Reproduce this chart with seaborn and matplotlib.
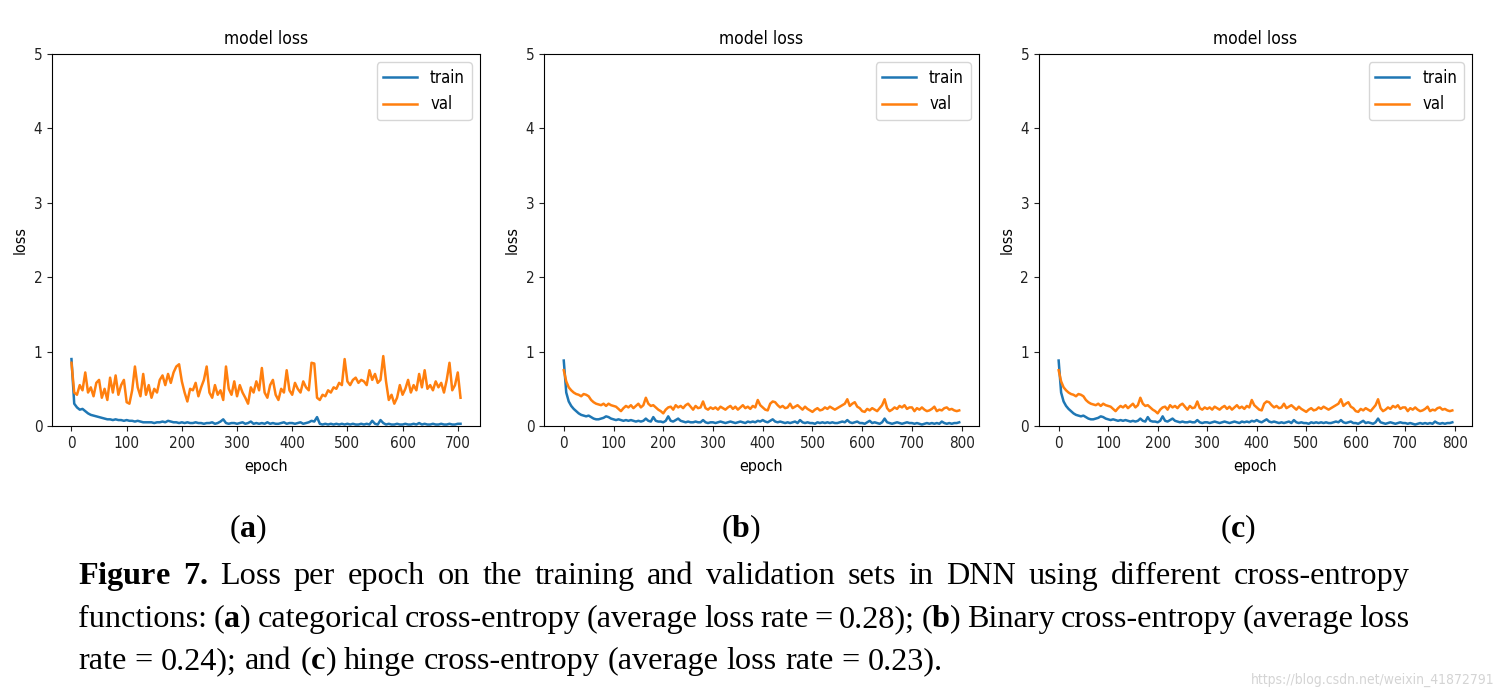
import numpy as np
import pandas as pd
import matplotlib
matplotlib.use("Agg")
import matplotlib.pyplot as plt
import seaborn as sns

epochs_a = np.arange(0, 706, 5)
epochs_b = np.arange(0, 796, 5)

a_val = [0.85, 0.45, 0.42, 0.55, 0.48, 0.72, 0.45, 0.52, 0.40, 0.58,
         0.62, 0.38, 0.50, 0.35, 0.65, 0.45, 0.68, 0.42, 0.55, 0.62,
         0.32, 0.30, 0.48, 0.80, 0.52, 0.40, 0.70, 0.42, 0.55, 0.38,
         0.50, 0.45, 0.62, 0.68, 0.55, 0.70, 0.58, 0.72, 0.80, 0.83,
         0.60, 0.45, 0.33, 0.50, 0.48, 0.58, 0.40, 0.52, 0.62, 0.80,
         0.45, 0.38, 0.55, 0.42, 0.48, 0.35, 0.80, 0.50, 0.42, 0.60,
         0.40, 0.55, 0.45, 0.38, 0.30, 0.52, 0.45, 0.60, 0.48, 0.78,
         0.45, 0.38, 0.55, 0.62, 0.42, 0.35, 0.50, 0.45, 0.75, 0.48,
         0.42, 0.58, 0.50, 0.45, 0.60, 0.52, 0.48, 0.85, 0.84, 0.38,
         0.35, 0.42, 0.40, 0.48, 0.45, 0.52, 0.50, 0.58, 0.55, 0.90,
         0.60, 0.55, 0.62, 0.65, 0.58, 0.62, 0.60, 0.55, 0.75, 0.62,
         0.70, 0.58, 0.62, 0.94, 0.60, 0.35, 0.42, 0.30, 0.38, 0.55,
         0.42, 0.50, 0.62, 0.45, 0.55, 0.48, 0.70, 0.52, 0.75, 0.50,
         0.55, 0.48, 0.60, 0.52, 0.58, 0.45, 0.62, 0.85, 0.48, 0.55,
         0.72, 0.38]

a_train = [0.90, 0.30, 0.25, 0.22, 0.23, 0.20, 0.17, 0.15, 0.14, 0.13,
           0.12, 0.11, 0.10, 0.09, 0.09, 0.08, 0.09, 0.08, 0.08, 0.07,
           0.08, 0.07, 0.07, 0.06, 0.07, 0.06, 0.05, 0.05, 0.05, 0.05,
           0.04, 0.05, 0.05, 0.06, 0.05, 0.07, 0.06, 0.05, 0.05, 0.04,
           0.05, 0.04, 0.05, 0.04, 0.04, 0.05, 0.04, 0.04, 0.03, 0.04,
           0.04, 0.05, 0.03, 0.04, 0.06, 0.09, 0.04, 0.03, 0.04, 0.04,
           0.03, 0.04, 0.05, 0.03, 0.04, 0.06, 0.03, 0.04, 0.03, 0.04,
           0.03, 0.05, 0.03, 0.04, 0.03, 0.03, 0.04, 0.05, 0.03, 0.04,
           0.04, 0.03, 0.04, 0.05, 0.03, 0.04, 0.05, 0.07, 0.06, 0.12,
           0.03, 0.02, 0.03, 0.02, 0.03, 0.02, 0.03, 0.02, 0.03, 0.02,
           0.03, 0.02, 0.03, 0.02, 0.02, 0.03, 0.02, 0.03, 0.02, 0.07,
           0.03, 0.02, 0.08, 0.04, 0.02, 0.03, 0.02, 0.02, 0.03, 0.02,
           0.02, 0.03, 0.02, 0.02, 0.03, 0.02, 0.04, 0.02, 0.03, 0.02,
           0.02, 0.03, 0.02, 0.02, 0.03, 0.02, 0.02, 0.03, 0.02, 0.02,
           0.03, 0.03]

b_val = [0.75, 0.60, 0.52, 0.48, 0.45, 0.43, 0.42, 0.40, 0.43, 0.42,
         0.40, 0.35, 0.32, 0.30, 0.29, 0.28, 0.30, 0.27, 0.30, 0.28,
         0.27, 0.26, 0.23, 0.20, 0.24, 0.27, 0.25, 0.28, 0.24, 0.27,
         0.30, 0.25, 0.28, 0.38, 0.30, 0.27, 0.28, 0.25, 0.22, 0.20,
         0.17, 0.22, 0.25, 0.26, 0.22, 0.28, 0.25, 0.27, 0.24, 0.28,
         0.30, 0.26, 0.22, 0.27, 0.24, 0.25, 0.33, 0.24, 0.22, 0.25,
         0.23, 0.25, 0.22, 0.26, 0.24, 0.22, 0.25, 0.27, 0.23, 0.26,
         0.22, 0.25, 0.28, 0.24, 0.26, 0.23, 0.27, 0.25, 0.35, 0.28,
         0.25, 0.22, 0.21, 0.30, 0.33, 0.32, 0.28, 0.25, 0.27, 0.24,
         0.25, 0.30, 0.24, 0.26, 0.28, 0.25, 0.22, 0.26, 0.23, 0.21,
         0.19, 0.22, 0.24, 0.21, 0.22, 0.25, 0.23, 0.26, 0.24, 0.22,
         0.24, 0.26, 0.28, 0.30, 0.36, 0.27, 0.30, 0.32, 0.26, 0.24,
         0.20, 0.19, 0.23, 0.21, 0.24, 0.22, 0.20, 0.24, 0.28, 0.36,
         0.24, 0.20, 0.22, 0.25, 0.23, 0.27, 0.25, 0.28, 0.23, 0.25,
         0.25, 0.20, 0.24, 0.22, 0.25, 0.22, 0.20, 0.21, 0.23, 0.26,
         0.20, 0.22, 0.21, 0.24, 0.25, 0.22, 0.23, 0.21, 0.20, 0.21]

b_train = [0.88, 0.45, 0.33, 0.27, 0.23, 0.20, 0.17, 0.15, 0.14, 0.13,
           0.14, 0.12, 0.10, 0.09, 0.09, 0.10, 0.11, 0.13, 0.12, 0.10,
           0.09, 0.08, 0.09, 0.08, 0.07, 0.08, 0.07, 0.08, 0.07, 0.06,
           0.07, 0.06, 0.07, 0.10, 0.07, 0.06, 0.12, 0.07, 0.06, 0.06,
           0.05, 0.07, 0.13, 0.07, 0.06, 0.08, 0.10, 0.07, 0.06, 0.05,
           0.06, 0.05, 0.05, 0.06, 0.05, 0.05, 0.08, 0.05, 0.04, 0.05,
           0.05, 0.04, 0.05, 0.06, 0.05, 0.04, 0.05, 0.06, 0.05, 0.04,
           0.05, 0.06, 0.05, 0.04, 0.06, 0.05, 0.06, 0.05, 0.07, 0.06,
           0.08, 0.06, 0.05, 0.07, 0.09, 0.06, 0.05, 0.06, 0.05, 0.04,
           0.05, 0.04, 0.05, 0.06, 0.04, 0.08, 0.05, 0.04, 0.05, 0.04,
           0.04, 0.03, 0.05, 0.04, 0.05, 0.04, 0.05, 0.04, 0.05, 0.04,
           0.04, 0.05, 0.06, 0.05, 0.08, 0.05, 0.04, 0.05, 0.06, 0.04,
           0.04, 0.03, 0.05, 0.07, 0.04, 0.05, 0.04, 0.03, 0.05, 0.10,
           0.05, 0.04, 0.03, 0.04, 0.05, 0.04, 0.03, 0.04, 0.05, 0.04,
           0.04, 0.03, 0.04, 0.03, 0.02, 0.03, 0.04, 0.03, 0.04, 0.03,
           0.04, 0.03, 0.06, 0.04, 0.03, 0.04, 0.03, 0.04, 0.04, 0.05]

# panel (c) traces look identical to panel (b) in the figure
c_val = list(b_val)
c_train = list(b_train)

panel_labels = ["a", "b", "c"]
caption_lines = [
    r"$\mathbf{Figure}$ $\mathbf{7.}$ Loss per epoch on the training and validation sets in DNN using different cross-entropy",
    r"functions: ($\mathbf{a}$) categorical cross-entropy (average loss rate = 0.28); ($\mathbf{b}$) Binary cross-entropy (average loss",
    r"rate = 0.24); and ($\mathbf{c}$) hinge cross-entropy (average loss rate = 0.23).",
]

plt.rcParams['font.family'] = ['DejaVu Sans']
plt.rcParams['font.stretch'] = 'condensed'
plt.rcParams['mathtext.fontset'] = 'custom'
plt.rcParams['mathtext.rm'] = 'Liberation Serif'
plt.rcParams['mathtext.bf'] = 'Liberation Serif:bold'

fig = plt.figure(figsize=(14.99, 6.96), dpi=100)
W, H = fig.get_size_inches() * fig.dpi

boxes = [[0.0347, 0.3879, 0.2855, 0.5345],
         [0.3629, 0.3879, 0.2902, 0.5345],
         [0.6931, 0.3879, 0.2889, 0.5345]]
series = [(epochs_a, a_train, a_val), (epochs_b, b_train, b_val), (epochs_b, c_train, c_val)]

for box, (ep, tr, va) in zip(boxes, series):
    ax = fig.add_axes(box)
    df = pd.DataFrame({"epoch": ep, "train": tr, "val": va})
    sns.lineplot(data=df, x="epoch", y="train", ax=ax, color="#1f77b4", lw=1.8, label="train")
    sns.lineplot(data=df, x="epoch", y="val", ax=ax, color="#ff7f0e", lw=1.8, label="val")
    ax.set_ylim(0, 5)
    ax.set_yticks([0, 1, 2, 3, 4, 5])
    ax.set_xticks(np.arange(0, ep[-1] + 10, 100))
    ax.margins(x=0.05)
    ax.set_title("model loss", fontsize=12.5, pad=7)
    ax.set_xlabel("epoch", fontsize=11.5, labelpad=6)
    ax.set_ylabel("loss", fontsize=11.5)
    ax.tick_params(labelsize=11, colors="#222222")
    ax.legend(loc="upper right", fontsize=12)

# sub-figure labels
for lab, xc in zip(panel_labels, [0.1654, 0.4943, 0.8259]):
    fig.text(xc, 0.2284, "($\\mathbf{" + lab + "}$)", ha="center", va="baseline",
             fontsize=23, family="Liberation Serif")

# caption, justified like the journal text (last line left aligned)
cap_size = 23.2
renderer = fig.canvas.get_renderer()
left_px, right_px = 78, 1410
t1 = fig.text(0, 0, "a a", fontsize=cap_size, family="Liberation Serif")
t2 = fig.text(0, 0, "aa", fontsize=cap_size, family="Liberation Serif")
space_px = t1.get_window_extent(renderer).width - t2.get_window_extent(renderer).width
t1.remove()
t2.remove()

for i, (line, yb) in enumerate(zip(caption_lines, [0.161, 0.0995, 0.039])):
    words = line.split(" ")
    texts = [fig.text(0, yb, w, ha="left", va="baseline", fontsize=cap_size,
                      family="Liberation Serif") for w in words]
    widths = [t.get_window_extent(renderer).width for t in texts]
    if i < len(caption_lines) - 1:
        gap = (right_px - left_px - sum(widths)) / (len(words) - 1)
    else:
        gap = space_px
    x = left_px
    for t, w in zip(texts, widths):
        t.set_x(x / W)
        x += w + gap

fig.text(0.997, 0.017, "https://blog.csdn.net/weixin_41872791", ha="right", va="baseline",
         fontsize=10, color="#d4d4d4")

fig.savefig("out.png", dpi=100)
